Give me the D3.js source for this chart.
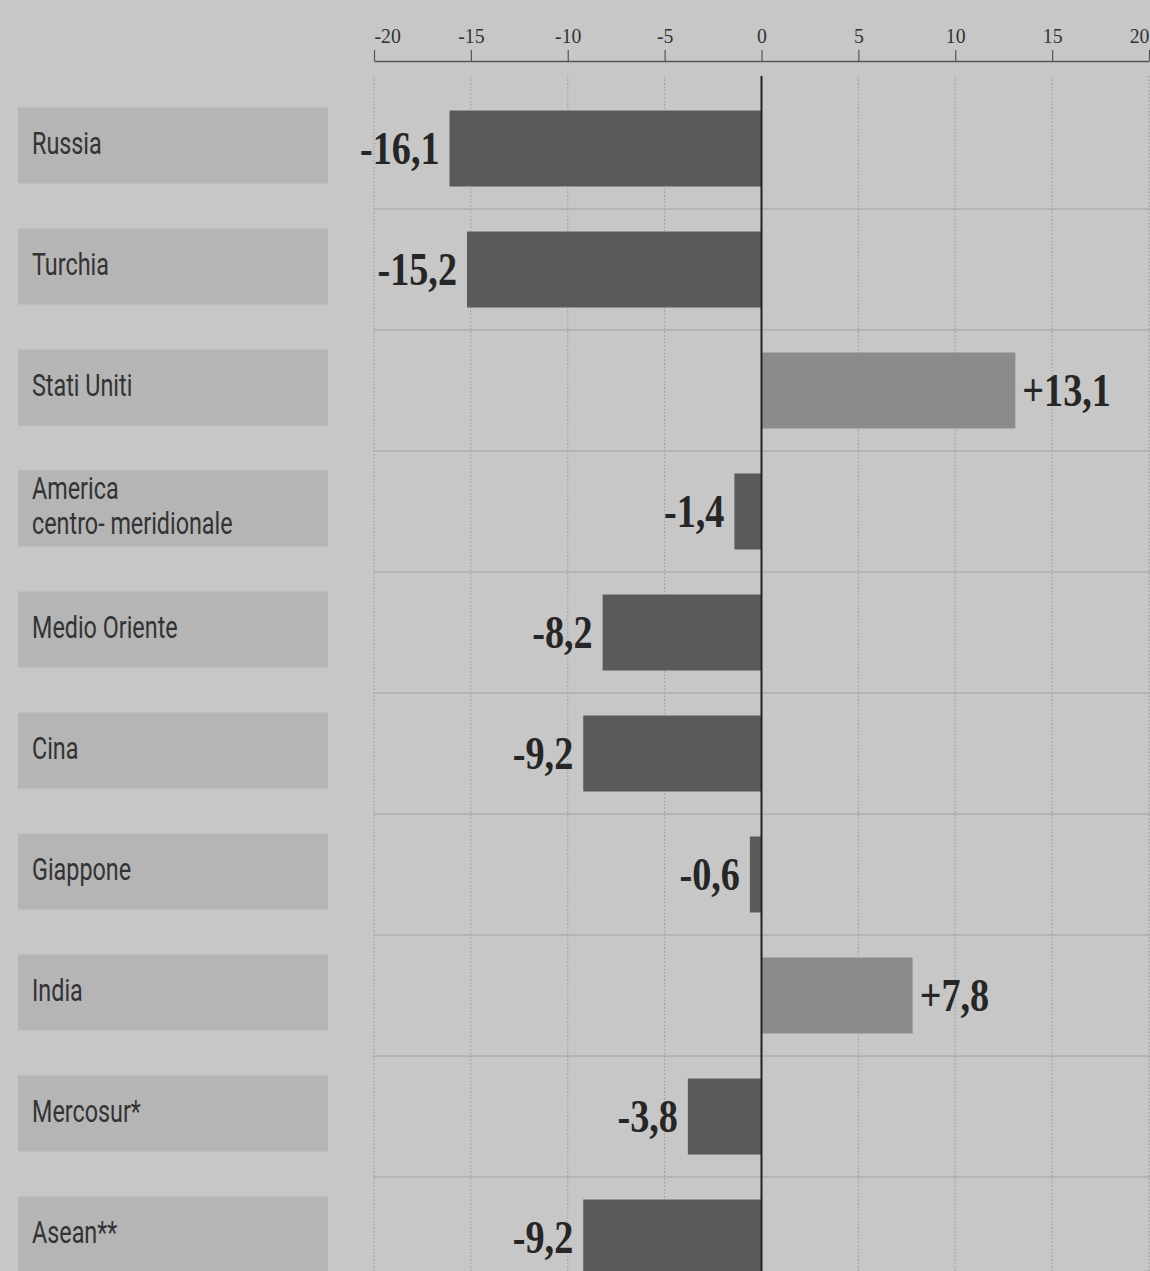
<!DOCTYPE html>
<html>
<head>
<meta charset="utf-8">
<script src="https://cdn.jsdelivr.net/npm/d3@7"></script>
<style>
  html, body { margin: 0; padding: 0; background: #c7c7c7; }
  svg { display: block; }
</style>
</head>
<body>
<script>
const categories = ["Russia", "Turchia", "Stati Uniti", "America centro- meridionale", "Medio Oriente", "Cina", "Giappone", "India", "Mercosur*", "Asean**"];
const labelLines = [["Russia"], ["Turchia"], ["Stati Uniti"], ["America", "centro- meridionale"], ["Medio Oriente"], ["Cina"], ["Giappone"], ["India"], ["Mercosur*"], ["Asean**"]];
const values = [-16.1, -15.2, 13.1, -1.4, -8.2, -9.2, -0.6, 7.8, -3.8, -9.2];
const tickValues = [-20, -15, -10, -5, 0, 5, 10, 15, 20];

const W = 1150, H = 1271;
const svg = d3.select("body").append("svg").attr("width", W).attr("height", H);

svg.append("rect").attr("width", W).attr("height", H).attr("fill", "#c7c7c7");

const x = d3.scaleLinear().domain([-20, 20]).range([374, 1149]);
const y = d3.scaleBand().domain(categories).range([88, 1298]).paddingInner(0.372).paddingOuter(0.186);

const fmt = v => (v > 0 ? "+" : "") + String(v.toFixed(1)).replace(".", ",");

// vertical dotted grid lines
svg.append("g").selectAll("line").data(tickValues.filter(t => t !== 0)).join("line")
  .attr("x1", d => x(d)).attr("x2", d => x(d))
  .attr("y1", 76).attr("y2", H)
  .attr("stroke", "#9a9a9a").attr("stroke-width", 1).attr("stroke-dasharray", "1.5,2");

// horizontal separators
const step = y.step();
svg.append("g").selectAll("line").data(categories.slice(1)).join("line")
  .attr("x1", x(-20)).attr("x2", W)
  .attr("y1", d => y(d) - step * y.paddingInner() / 2)
  .attr("y2", d => y(d) - step * y.paddingInner() / 2)
  .attr("stroke", "#a2a2a2").attr("stroke-width", 1.2);

// label boxes
svg.append("g").selectAll("rect").data(categories).join("rect")
  .attr("x", 18).attr("width", 310)
  .attr("y", d => y(d) - 3).attr("height", y.bandwidth())
  .attr("fill", "#b5b5b5");

// category labels
const lab = svg.append("g").selectAll("g").data(categories).join("g")
  .attr("transform", d => `translate(32,${y(d) - 3 + y.bandwidth() / 2})`);
lab.each(function(d, i) {
  const lines = labelLines[i];
  const g = d3.select(this);
  const lh = 35;
  lines.forEach((t, j) => {
    const off = (j - (lines.length - 1) / 2) * lh + 8;
    g.append("text")
      .attr("transform", `translate(0,${off}) scale(0.73,1)`)
      .attr("font-family", "Roboto, 'Noto Sans', sans-serif")
      .attr("font-weight", 400)
      .attr("font-size", 32)
      .attr("fill", "#333")
      .text(t);
  });
});

// bars
svg.append("g").selectAll("rect").data(categories).join("rect")
  .attr("x", (d, i) => x(Math.min(0, values[i])))
  .attr("width", (d, i) => Math.abs(x(values[i]) - x(0)))
  .attr("y", d => y(d)).attr("height", y.bandwidth())
  .attr("fill", (d, i) => values[i] < 0 ? "#5a5a5a" : "#8b8b8b");

// zero line
svg.append("line")
  .attr("x1", x(0)).attr("x2", x(0)).attr("y1", 76).attr("y2", H)
  .attr("stroke", "#222").attr("stroke-width", 2);

// value labels
svg.append("g").selectAll("text").data(categories).join("text")
  .attr("transform", (d, i) => {
    const v = values[i];
    const px = v < 0 ? x(v) - 10 : x(v) + 7;
    return `translate(${px},${y(d) + y.bandwidth() / 2 + 15}) scale(0.83,1)`;
  })
  .attr("text-anchor", (d, i) => values[i] < 0 ? "end" : "start")
  .attr("font-family", "'Liberation Serif', 'DejaVu Serif', serif")
  .attr("font-weight", "bold")
  .attr("font-size", 46)
  .attr("fill", "#262626")
  .text((d, i) => fmt(values[i]));

// axis
const axis = d3.axisTop(x).tickValues(tickValues).tickSizeInner(11).tickSizeOuter(0).tickPadding(8)
  .tickFormat(d => String(d));
const ag = svg.append("g").attr("transform", "translate(0,61)").call(axis);
ag.select(".domain").attr("stroke", "#555").attr("stroke-width", 1.3);
ag.selectAll(".tick line").attr("stroke", "#555").attr("stroke-width", 1.2);
ag.selectAll(".tick text")
  .attr("font-family", "'Liberation Serif', 'DejaVu Serif', serif")
  .attr("font-size", 22)
  .attr("fill", "#333")
  .attr("transform", "translate(0,1) scale(0.9,1)")
  .attr("text-anchor", d => d === -20 ? "start" : d === 20 ? "end" : "middle");
</script>
</body>
</html>
